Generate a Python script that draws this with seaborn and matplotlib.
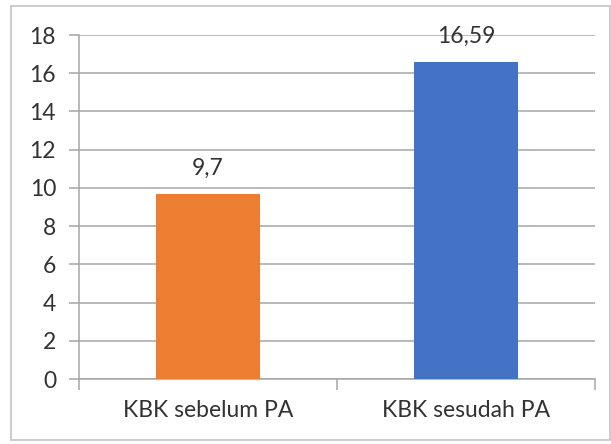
import numpy as np
import pandas as pd
import matplotlib
matplotlib.use("Agg")
import matplotlib.pyplot as plt
from matplotlib.patches import Rectangle
import seaborn as sns

categories = ["KBK sebelum PA", "KBK sesudah PA"]
values = [9.7, 16.59]
value_labels = ["9,7", "16,59"]
bar_colors = ["#ED7D31", "#4472C4"]
y_ticks = [0, 2, 4, 6, 8, 10, 12, 14, 16, 18]

sns.set_theme(style="white")
plt.rcParams["font.family"] = ["Lato", "DejaVu Sans"]

df = pd.DataFrame({"kategori": categories, "nilai": values})

fig = plt.figure(figsize=(6.11, 4.44), dpi=100)
ax = fig.add_axes([79 / 611, 65 / 444, 516 / 611, 344 / 444])

# outer chart border like the spreadsheet frame
fig.patches.append(Rectangle((11 / 611, 4 / 444), 599 / 611, 434 / 444,
                             transform=fig.transFigure, fill=False,
                             edgecolor="#c4c4c4", linewidth=1.2))

sns.barplot(data=df, x="kategori", y="nilai", hue="kategori",
            palette=bar_colors, width=0.4, saturation=1, linewidth=0,
            legend=False, ax=ax, zorder=3)

txt = "#333333"
for i, (v, lab) in enumerate(zip(values, value_labels)):
    ax.annotate(lab, (i, v), xytext=(0, 13.5), textcoords="offset points",
                ha="center", va="baseline", fontsize=16.5, color=txt)

ax.set_xlim(-0.5, 1.5)
ax.set_ylim(0, 18)
ax.set_yticks(y_ticks)
ax.set_xlabel("")
ax.set_ylabel("")
ax.yaxis.grid(True, color="#a6a6a6", linewidth=1.1, zorder=0)
ax.set_axisbelow(True)

for s in ["top", "right"]:
    ax.spines[s].set_visible(False)
for s in ["left", "bottom"]:
    ax.spines[s].set_color("#a6a6a6")
    ax.spines[s].set_linewidth(1.1)

ax.tick_params(axis="y", which="major", direction="out", length=7.5, width=1.1,
               color="#a6a6a6", pad=9, labelsize=16.5, labelcolor=txt, left=True)
ax.set_xticks([-0.5, 0.5, 1.5], minor=True)
ax.tick_params(axis="x", which="major", length=0, pad=15, labelsize=16.5, labelcolor=txt)
ax.tick_params(axis="x", which="minor", direction="out", length=8, width=1.1,
               color="#a6a6a6", bottom=True)

fig.savefig("out.png", dpi=100)
